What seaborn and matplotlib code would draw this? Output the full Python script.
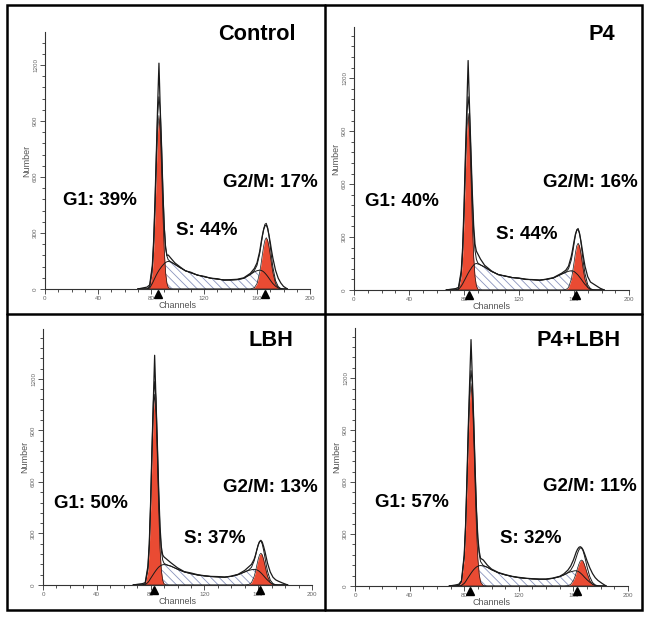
import numpy as np
import pandas as pd
import matplotlib
matplotlib.use('Agg')
import matplotlib.pyplot as plt
import matplotlib.transforms as mtransforms
from matplotlib.patches import Rectangle
from matplotlib.ticker import MultipleLocator
import seaborn as sns

# ---------------- data ----------------
# Control
ctrl_ch  = [70, 74, 77, 79, 81, 82, 83, 84, 85, 86, 87, 88, 89, 90, 91, 92, 93, 95, 98,
            102, 106, 110, 115, 120, 125, 130, 135, 140, 145, 150,
            155, 158, 160, 162, 163, 164, 165, 166, 167, 168, 169, 170, 171, 172, 174, 176, 178, 180, 183]
ctrl_g1  = [0, 0, 0, 9, 88, 205, 397, 637, 846, 930, 846, 637, 397, 205, 88, 31, 9, 0, 0,
            0, 0, 0, 0, 0, 0, 0, 0, 0, 0, 0,
            0, 0, 0, 0, 0, 0, 0, 0, 0, 0, 0, 0, 0, 0, 0, 0, 0, 0, 0]
ctrl_s   = [0, 0, 0, 5, 30, 45, 60, 75, 88, 100, 110, 120, 128, 136, 142, 146, 148, 145, 132,
            114, 98, 87, 75, 66, 58, 53, 49, 48, 50, 57,
            78, 92, 98, 101, 100, 97, 92, 85, 77, 68, 58, 48, 38, 29, 15, 6, 1, 0, 0]
ctrl_g2  = [0, 0, 0, 0, 0, 0, 0, 0, 0, 0, 0, 0, 0, 0, 0, 0, 0, 0, 0,
            0, 0, 0, 0, 0, 0, 0, 0, 0, 0, 0,
            0, 7, 29, 87, 132, 182, 229, 262, 275, 262, 229, 182, 132, 87, 29, 7, 1, 0, 0]
ctrl_raw = [0, 6, 10, 22, 125, 260, 470, 720, 980, 1210, 960, 760, 520, 330, 220, 180, 182, 165, 140,
            118, 97, 90, 74, 68, 58, 55, 47, 50, 52, 60,
            84, 110, 140, 200, 245, 285, 318, 338, 343, 325, 290, 250, 205, 165, 100, 58, 32, 14, 0]

# P4
p4_ch  = [67, 71, 74, 76, 78, 79, 80, 81, 82, 83, 84, 85, 86, 87, 88, 89, 90, 92, 95,
          100, 105, 110, 115, 120, 125, 130, 135, 140, 145,
          151, 154, 156, 158, 159, 160, 161, 162, 163, 164, 165, 166, 167, 168, 170, 172, 174, 176, 179, 182]
p4_g1  = [0, 0, 0, 6, 76, 191, 395, 661, 902, 1000, 902, 661, 395, 191, 76, 24, 6, 0, 0,
          0, 0, 0, 0, 0, 0, 0, 0, 0, 0,
          0, 0, 0, 0, 0, 0, 0, 0, 0, 0, 0, 0, 0, 0, 0, 0, 0, 0, 0, 0]
p4_s   = [0, 0, 0, 3, 22, 35, 50, 65, 80, 95, 108, 120, 132, 141, 148, 150, 148, 142, 130,
          105, 88, 78, 71, 66, 61, 58, 56, 60, 68,
          90, 100, 106, 109, 108, 105, 99, 92, 84, 74, 64, 53, 42, 32, 15, 5, 1, 0, 0, 0]
p4_g2  = [0, 0, 0, 0, 0, 0, 0, 0, 0, 0, 0, 0, 0, 0, 0, 0, 0, 0, 0,
          0, 0, 0, 0, 0, 0, 0, 0, 0, 0,
          0, 2, 14, 60, 102, 155, 209, 250, 265, 250, 209, 155, 102, 60, 14, 2, 0, 0, 0, 0]
p4_raw = [0, 5, 8, 15, 110, 240, 470, 760, 1020, 1300, 1040, 800, 560, 370, 260, 220, 205, 175, 140,
          108, 86, 80, 70, 68, 60, 59, 55, 62, 70,
          95, 112, 135, 190, 230, 275, 315, 338, 343, 320, 280, 230, 180, 135, 75, 45, 35, 25, 10, 0]

# LBH
lbh_ch  = [67, 71, 74, 76, 78, 79, 80, 81, 82, 83, 84, 85, 86, 87, 88, 89, 90, 92, 95,
           100, 105, 110, 115, 120, 125, 130, 135, 140, 145,
           150, 153, 155, 157, 158, 159, 160, 161, 162, 163, 164, 165, 166, 167, 169, 171, 173, 175, 178, 182]
lbh_g1  = [0, 0, 0, 7, 84, 212, 438, 734, 1001, 1110, 1001, 734, 438, 212, 84, 27, 7, 0, 0,
           0, 0, 0, 0, 0, 0, 0, 0, 0, 0,
           0, 0, 0, 0, 0, 0, 0, 0, 0, 0, 0, 0, 0, 0, 0, 0, 0, 0, 0, 0]
lbh_s   = [0, 0, 0, 2, 15, 25, 38, 50, 62, 74, 85, 95, 104, 110, 115, 118, 119, 117, 110,
           92, 76, 66, 58, 53, 49, 47, 46, 50, 60,
           76, 85, 89, 91, 90, 88, 84, 78, 71, 63, 54, 45, 36, 28, 14, 5, 1, 0, 0, 0]
lbh_g2  = [0, 0, 0, 0, 0, 0, 0, 0, 0, 0, 0, 0, 0, 0, 0, 0, 0, 0, 0,
           0, 0, 0, 0, 0, 0, 0, 0, 0, 0,
           0, 3, 14, 50, 80, 116, 150, 176, 185, 176, 150, 116, 80, 50, 14, 3, 0, 0, 0, 0]
lbh_raw = [0, 5, 8, 14, 110, 240, 480, 790, 1060, 1337, 1080, 830, 560, 340, 220, 175, 163, 150, 130,
           100, 78, 70, 60, 54, 50, 49, 45, 52, 62,
           85, 106, 120, 150, 175, 205, 232, 252, 260, 250, 225, 195, 160, 125, 75, 45, 30, 22, 12, 0]

# P4+LBH
comb_ch  = [69, 73, 76, 78, 80, 81, 82, 83, 84, 85, 86, 87, 88, 89, 90, 91, 92, 94, 97,
            100, 105, 110, 115, 120, 125, 130, 135, 140, 145, 150,
            153, 156, 158, 160, 161, 162, 163, 164, 165, 166, 167, 168, 169, 170, 172, 174, 176, 178, 181, 184]
comb_g1  = [0, 0, 2, 23, 158, 325, 570, 850, 1080, 1170, 1080, 850, 570, 325, 158, 66, 23, 2, 0,
            0, 0, 0, 0, 0, 0, 0, 0, 0, 0, 0,
            0, 0, 0, 0, 0, 0, 0, 0, 0, 0, 0, 0, 0, 0, 0, 0, 0, 0, 0, 0]
comb_s   = [0, 0, 0, 3, 15, 25, 38, 50, 62, 74, 85, 95, 103, 110, 114, 117, 118, 116, 108,
            94, 76, 64, 55, 48, 44, 41, 39, 39, 44, 54,
            64, 76, 82, 86, 88, 88, 86, 82, 76, 69, 61, 52, 44, 36, 22, 11, 4, 1, 0, 0]
comb_g2  = [0, 0, 0, 0, 0, 0, 0, 0, 0, 0, 0, 0, 0, 0, 0, 0, 0, 0, 0,
            0, 0, 0, 0, 0, 0, 0, 0, 0, 0, 0,
            0, 2, 9, 32, 51, 75, 102, 126, 144, 150, 144, 126, 102, 75, 32, 9, 2, 0, 0, 0]
comb_raw = [0, 5, 10, 30, 180, 350, 620, 920, 1180, 1423, 1190, 950, 680, 440, 280, 200, 160, 150, 120,
            98, 78, 66, 56, 50, 45, 42, 40, 40, 46, 56,
            70, 92, 115, 150, 172, 195, 212, 223, 227, 222, 210, 190, 168, 145, 105, 72, 48, 32, 15, 0]

# panel titles, phase labels, G1 / G2 marker channels, y-axis top
titles    = ['Control', 'P4', 'LBH', 'P4+LBH']
g1_labels = ['G1: 39%', 'G1: 40%', 'G1: 50%', 'G1: 57%']
s_labels  = ['S: 44%', 'S: 44%', 'S: 37%', 'S: 32%']
g2_labels = ['G2/M: 17%', 'G2/M: 16%', 'G2/M: 13%', 'G2/M: 11%']
g1_marks  = [85.5, 83.5, 82.8, 84.2]
g2_marks  = [166, 161.7, 161, 162.4]
y_tops    = [1377, 1490, 1490, 1490]

sns.set_theme(style='white')
plt.rcParams['font.family'] = ['Liberation Sans', 'DejaVu Sans']
plt.rcParams['hatch.linewidth'] = 0.6

W, H = 649, 619
fig = plt.figure(figsize=(W / 100, H / 100), dpi=100)

RED = '#ea4b33'
HATCH = '#8a94bd'
INK = '#1a1a1a'

# axes boxes in pixels: left, top(of y axis), right(ch 200), bottom(y = 0)
boxes = [(45, 32, 310, 289), (354, 27, 629, 290), (43, 329, 312, 585), (355, 328, 628, 586)]
# text spots in pixels (left x, baseline y)
title_xy = [(218, 40), (589, 40), (249, 346), (536, 346)]
g1_xy    = [(63, 205), (365, 206), (54, 508), (375, 507)]
g2_xy    = [(223, 187), (543, 187), (223, 492), (543, 491)]
s_xy     = [(176, 235), (496, 239), (184, 543), (500, 543)]

panels = [
    (ctrl_ch, ctrl_g1, ctrl_s, ctrl_g2, ctrl_raw),
    (p4_ch, p4_g1, p4_s, p4_g2, p4_raw),
    (lbh_ch, lbh_g1, lbh_s, lbh_g2, lbh_raw),
    (comb_ch, comb_g1, comb_s, comb_g2, comb_raw),
]

for i, (ch, g1, s, g2, raw) in enumerate(panels):
    l, t, r, b = boxes[i]
    ax = fig.add_axes([l / W, 1 - b / H, (r - l) / W, (b - t) / H])
    df = pd.DataFrame({'ch': ch, 'g1': g1, 's': s, 'g2': g2, 'raw': raw})
    df['fit'] = df['g1'] + df['s'] + df['g2']

    # S phase hatched, G1 and G2 red peaks
    ax.fill_between(df['ch'], 0, df['s'], facecolor='white', edgecolor=HATCH,
                    hatch='\\\\\\\\', linewidth=0, zorder=1)
    ax.fill_between(df['ch'], 0, df['g1'], color=RED, linewidth=0, zorder=2)
    ax.fill_between(df['ch'], 0, df['g2'], color=RED, linewidth=0, zorder=2)
    for col, lw in [('g1', 0.5), ('g2', 0.5), ('s', 0.7), ('fit', 0.7), ('raw', 0.9)]:
        sns.lineplot(data=df, x='ch', y=col, ax=ax, color=INK, linewidth=lw,
                     errorbar=None, zorder=4)

    ax.set_xlim(0, 200)
    ax.set_ylim(0, y_tops[i])
    ax.set_facecolor('none')
    sns.despine(ax=ax)
    for sp in ['left', 'bottom']:
        ax.spines[sp].set_color('#333333')
        ax.spines[sp].set_linewidth(0.8)
    ax.xaxis.set_major_locator(MultipleLocator(40))
    ax.xaxis.set_minor_locator(MultipleLocator(10))
    ax.yaxis.set_major_locator(MultipleLocator(300))
    ax.yaxis.set_minor_locator(MultipleLocator(60))
    ax.tick_params(which='both', direction='out', color='#333333', width=0.6,
                   labelsize=4.5, labelcolor='#666666', pad=1.5)
    ax.tick_params(which='major', length=3.5)
    ax.tick_params(which='minor', length=2.2)
    ax.tick_params(axis='x', which='both', bottom=True)
    ax.tick_params(axis='y', which='both', left=True, labelrotation=90)
    for lab in ax.get_yticklabels():
        lab.set_va('center')
    ax.set_xlabel('Channels', fontsize=6.5, color='#555555', labelpad=0)
    ax.set_ylabel('Number', fontsize=6.5, color='#555555', labelpad=1)
    ax.grid(False)

    # G1 / G2 mean markers under the axis
    tr = mtransforms.offset_copy(ax.transData, fig=fig, y=-5, units='dots')
    ax.plot([g1_marks[i], g2_marks[i]], [0, 0], linestyle='none', marker='^',
            markersize=5.8, color='black', transform=tr, clip_on=False, zorder=6)

    fig.text(title_xy[i][0] / W, 1 - title_xy[i][1] / H, titles[i],
             fontsize=15.7, fontweight='bold', ha='left', va='baseline', color='black')
    for txt, (x, y) in [(g1_labels[i], g1_xy[i]), (g2_labels[i], g2_xy[i]), (s_labels[i], s_xy[i])]:
        fig.text(x / W, 1 - y / H, txt, fontsize=13.5, fontweight='bold',
                 ha='left', va='baseline', color='black')

# panel frame
fig.add_artist(Rectangle((7 / W, 1 - 610 / H), 635 / W, 605 / H, fill=False,
                         edgecolor='black', linewidth=1.8, transform=fig.transFigure))
fig.add_artist(plt.Line2D([325 / W, 325 / W], [1 - 5 / H, 1 - 610 / H],
                          color='black', linewidth=1.8, transform=fig.transFigure))
fig.add_artist(plt.Line2D([7 / W, 642 / W], [1 - 314 / H, 1 - 314 / H],
                          color='black', linewidth=1.8, transform=fig.transFigure))

fig.savefig('out.png', dpi=100)
